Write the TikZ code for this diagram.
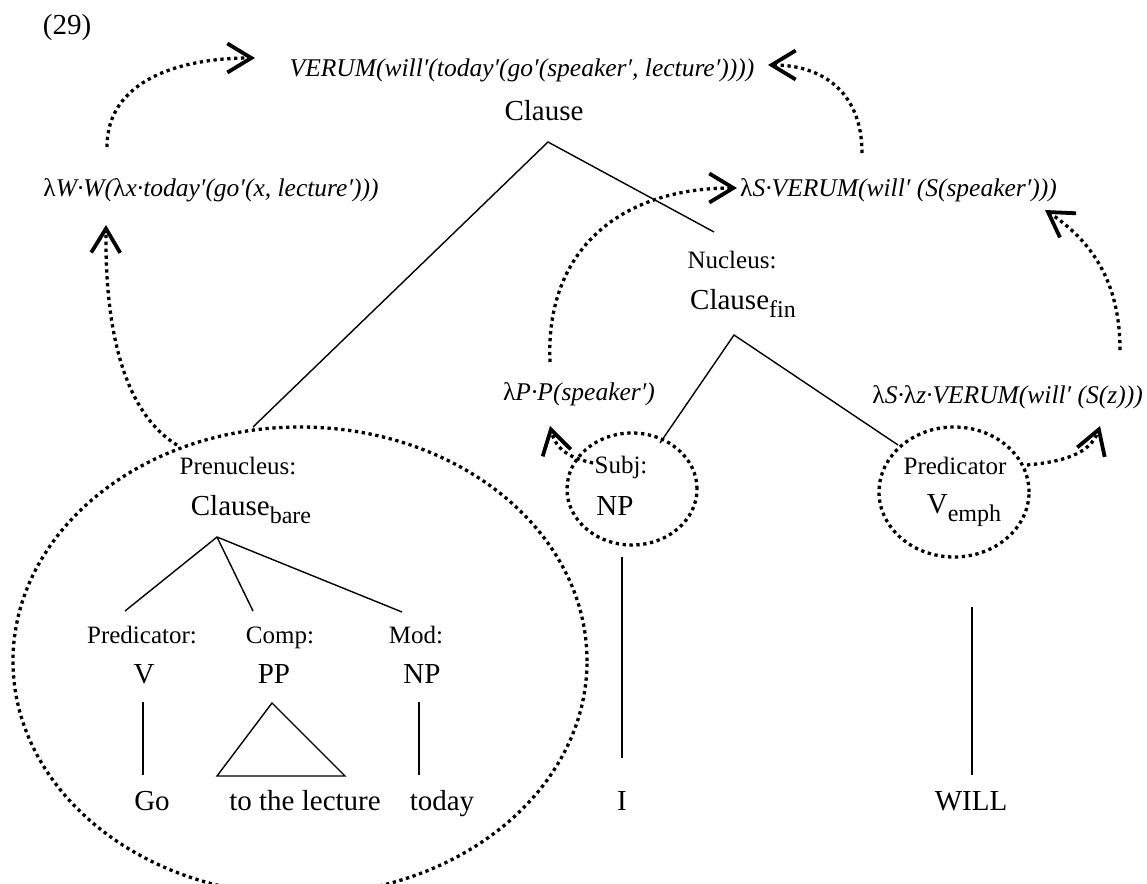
\documentclass[tikz,border=0pt]{standalone}
\usepackage{fontspec}
\setmainfont{Liberation Serif}
\usetikzlibrary{arrows.meta}
% upright lambda inside italic formulas, lowered subscripts on categories
\newcommand\lam{{\upshape λ}}
\newcommand\subtxt[1]{\raisebox{-8pt}{\fontsize{24}{28}\selectfont #1}}
\begin{document}
\begin{tikzpicture}[x=1pt,y=-1pt,
  every node/.style={inner sep=0pt, anchor=base},
  cat/.style={font=\fontsize{29}{34}\selectfont},
  fn/.style={font=\fontsize{25}{30}\selectfont},
  sem/.style={font=\fontsize{25.5}{30}\selectfont\itshape},
  branch/.style={line width=1.4pt},
  dots/.style={line width=3.3pt, dash pattern=on 3.3pt off 3.6pt},
  flow/.style={dots, -{Straight Barb[length=24pt,width=29pt,line width=3.8pt]}}
]
\useasboundingbox (0,0) rectangle (1147,883);

% ---- labels ----
\node[cat] (ex) at (67,35) {(29)};
\node[sem] (top) at (522,76) {VERUM(will′(today′(go′(speaker′, lecture′))))};
\node[cat] (clause) at (544,120) {Clause};
\node[sem] (lamW) at (211,196) {\lam W·W(\lam x·today′(go′(x, lecture′)))};
\node[sem, anchor=base west] (lamSV) at (740,196) {\lam S·VERUM(will′ (S(speaker′)))};
\node[fn] (nuc) at (732,268) {Nucleus:};
\node[cat] (cfin) at (743,309) {Clause\subtxt{fin}};
\node[sem] (lamP) at (579,400) {\lam P·P(speaker′)};
\node[sem, anchor=base east] (lamSz) at (1143,403) {\lam S·\lam z·VERUM(will′ (S(z)))};

\node[fn] (subjfn) at (621,473) {Subj:};
\node[cat] (subj) at (615,515) {NP};
\node[fn] (predfn) at (955,474) {Predicator};
\node[cat] (vemph) at (964,513) {V\subtxt{emph}};

\node[fn] (prefn) at (238,474) {Prenucleus:};
\node[cat] (bare) at (251,515) {Clause\subtxt{bare}};
\node[fn] (vfn) at (142,643) {Predicator:};
\node[fn] (ppfn) at (280,643) {Comp:};
\node[fn] (npfn) at (416,643) {Mod:};
\node[cat] (v) at (144,683) {V};
\node[cat] (pp) at (274,683) {PP};
\node[cat] (np) at (422,683) {NP};
\node[cat] (go) at (152,810) {Go};
\node[cat] (lect) at (305,810) {to the lecture};
\node[cat] (today) at (442,810) {today};
\node[cat] (i) at (622,810) {I};
\node[cat] (will) at (971,810) {WILL};

% ---- constituent outlines ----
\draw[dots] (300,661) ellipse [x radius=287pt, y radius=234pt];
\draw[dots] (632,489) ellipse [x radius=65pt, y radius=56pt];
\draw[dots] (954,492) ellipse [x radius=75pt, y radius=65pt];

% ---- tree branches ----
\coordinate (clauseF) at (548,142);
\coordinate (preT) at (253,427);
\coordinate (nucT) at (714,232);
\coordinate (finF) at (734,335);
\coordinate (subjT) at (660,443);
\coordinate (predT) at (898,445);
\coordinate (bareF) at (217,537);
\coordinate (vT) at (125,611);
\coordinate (ppT) at (253,611);
\coordinate (npT) at (402,612);
\coordinate (vB) at (143,702);  \coordinate (goT) at (143,775);
\coordinate (ppB) at (272,703); \coordinate (triL) at (217,776); \coordinate (triR) at (345,776);
\coordinate (npB) at (419,702); \coordinate (todayT) at (419,775);
\coordinate (subjB) at (622,557); \coordinate (iT) at (622,758);
\coordinate (predB) at (972,607); \coordinate (willT) at (972,775);

\draw[branch] (preT) -- (clauseF) -- (nucT);
\draw[branch] (subjT) -- (finF) -- (predT);
\draw[branch] (vT) -- (bareF) -- (npT);
\draw[branch] (bareF) -- (ppT);
\draw[branch] (vB) -- (goT);
\draw[branch] (ppB) -- (triL) -- (triR) -- cycle;
\draw[branch] (npB) -- (todayT);
\draw[branch] (subjB) -- (iT);
\draw[branch] (predB) -- (willT);

% ---- composition arrows ----
\coordinate (wUp) at (107,147);    \coordinate (topL) at (255,58);
\coordinate (svUp) at (862,153);   \coordinate (topR) at (768,65);
\coordinate (pUp) at (550,362);    \coordinate (svL) at (737,188);
\coordinate (szUp) at (1120,350);  \coordinate (svR) at (1045,210);
\coordinate (preUp) at (177,445);  \coordinate (wDown) at (106,225);
\coordinate (subjUp) at (593,463); \coordinate (pDown) at (550,426);
\coordinate (predUp) at (1027,465);\coordinate (szDown) at (1100,426);

\draw[flow] (wUp) .. controls (107,80) and (180,58) .. (topL);
\draw[flow] (svUp) .. controls (862,90) and (820,65) .. (topR);
\draw[flow] (pUp) .. controls (545,250) and (620,188) .. (svL);
\draw[flow] (szUp) .. controls (1120,280) and (1090,240) .. (svR);
\draw[flow] (preUp) .. controls (120,410) and (105,320) .. (wDown);
\draw[flow] (subjUp) .. controls (570,458) and (556,450) .. (pDown);
\draw[flow] (predUp) .. controls (1060,462) and (1090,455) .. (szDown);
\end{tikzpicture}
\end{document}
